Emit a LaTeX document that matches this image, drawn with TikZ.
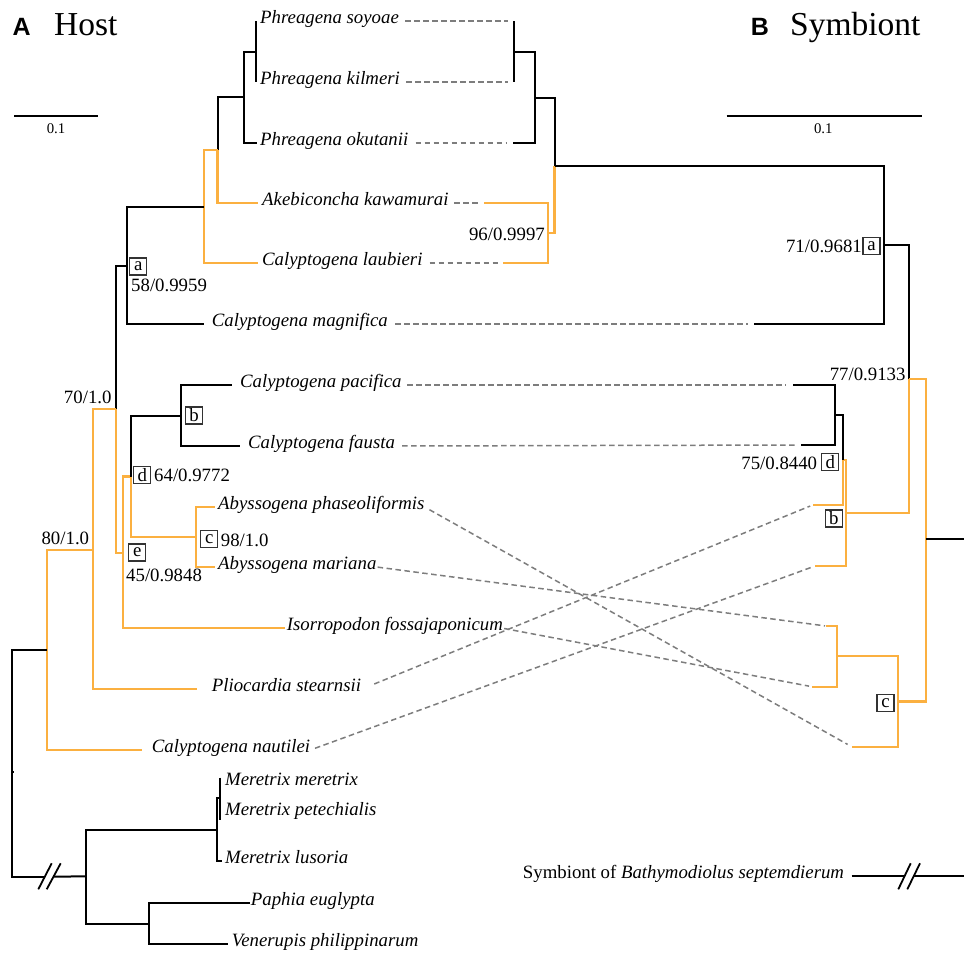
\documentclass[tikz,border=0pt]{standalone}
\usepackage{fontspec}
\setmainfont{Liberation Serif}
\newfontfamily\hsans{Liberation Sans}
\definecolor{orng}{RGB}{251,176,64}
\definecolor{dgrey}{RGB}{125,125,125}
\begin{document}
\begin{tikzpicture}[x=1pt,y=-1pt,
  blk/.style={line width=2pt, black},
  org/.style={line width=2.1pt, orng},
  cx/.style={line width=1.5pt, dgrey, dash pattern=on 5.5pt off 3.5pt},
  tx/.style={font=\fontsize{18.8}{20}\selectfont\itshape, inner sep=0pt, anchor=mid west},
  num/.style={font=\fontsize{18.8}{20}\selectfont, inner sep=0pt},
  bx/.style={draw=black!80, line width=1.1pt, minimum width=17pt, minimum height=17pt, inner sep=0pt, font=\fontsize{18.8}{20}\selectfont},
  ttl/.style={font=\fontsize{33.5}{36}\selectfont, inner sep=0pt, anchor=base west},
  ltr/.style={font=\hsans\bfseries\fontsize{25}{28}\selectfont, inner sep=0pt, anchor=base west},
  sc/.style={font=\fontsize{14.8}{16}\selectfont, inner sep=0pt, anchor=base},
  brk/.style={line width=1.8pt, black}
]
\useasboundingbox (0,0) rectangle (964,953);

% ---------- titles and scale bars
\node[ltr] (tA) at (12.5,35) {A};
\node[ttl] (tHost) at (54,35) {Host};
\node[ltr] (tB) at (750.7,35) {B};
\node[ttl] (tSym) at (790,35) {Symbiont};
\coordinate (sbl1) at (14,116); \coordinate (sbl2) at (98,116);
\draw[blk] (sbl1) -- (sbl2);
\node[sc] (sbl) at (56,133) {0.1};
\coordinate (sbr1) at (726.7,116); \coordinate (sbr2) at (921.7,116);
\draw[blk] (sbr1) -- (sbr2);
\node[sc] (sbr) at (823.3,133) {0.1};

% ---------- host tree coordinates
\coordinate (hsoy) at (256,21);  \coordinate (hkil) at (256,82);
\coordinate (hS1) at (256,51.5);
\coordinate (hoku) at (257,143);
\coordinate (hP) at (243.5,97);
\coordinate (hake) at (258,203);
\coordinate (hPA) at (217.5,150);
\coordinate (hlau) at (258,263);
\coordinate (hPAL) at (203.6,207);
\coordinate (hmag) at (204.3,324);
\coordinate (hA) at (126.7,266);
\coordinate (hpac) at (231.7,385);
\coordinate (hfau) at (240,446);
\coordinate (hB) at (181,415.5);
\coordinate (hpha) at (215,507);
\coordinate (hmar) at (215,567);
\coordinate (hC) at (196,537);
\coordinate (hD) at (130.7,476.5);
\coordinate (hiso) at (285,628.3);
\coordinate (hE) at (123.3,552.7);
\coordinate (h70) at (115.7,409);
\coordinate (hpli) at (196.7,689.3);
\coordinate (h80) at (93.3,550);
\coordinate (hnau) at (141.7,750);
\coordinate (hV) at (46.7,650);
\coordinate (hR) at (11.7,763);
\coordinate (hRt) at (14,771.7);
\coordinate (hRt0) at (11.7,771.7);
\coordinate (hbk1) at (45,876.7);
\coordinate (hbk2) at (54,876.7);
\coordinate (hOut) at (86,876.3);
\coordinate (hmer) at (220,777.7); \coordinate (hpet) at (220,820);
\coordinate (hMM) at (220,798.3);
\coordinate (hlus) at (222,861);
\coordinate (hMer) at (217.3,829.5);
\coordinate (hpap) at (250,903.3);
\coordinate (hven) at (228.3,944.3);
\coordinate (hPV) at (149.3,923.8);

% ---------- host branches
\draw[blk] (hsoy) -- (hkil);
\draw[blk] (hP) |- (hS1);
\draw[blk] (hP) |- (hoku);
\draw[blk] (hPA) |- (hP);
\draw[org] (hPA) |- (hake);
\draw[org] (hPAL) |- (hPA);
\draw[org] (hPAL) |- (hlau);
\draw[blk] (hA) |- (hPAL);
\draw[blk] (hA) |- (hmag);
\draw[blk] (h70) |- (hA);
\draw[org] (h70) |- (hE);
\draw[org] (hE) |- (hD);
\draw[org] (hE) |- (hiso);
\draw[blk] (hD) |- (hB);
\draw[org] (hD) |- (hC);
\draw[blk] (hB) |- (hpac);
\draw[blk] (hB) |- (hfau);
\draw[org] (hC) |- (hpha);
\draw[org] (hC) |- (hmar);
\draw[org] (h80) |- (h70);
\draw[org] (h80) |- (hpli);
\draw[org] (hV) |- (h80);
\draw[org] (hV) |- (hnau);
\draw[blk] (hR) |- (hV);
\draw[blk] (hR) |- (hbk1);
\draw[blk] (hbk2) -- (hOut);
\draw[blk] (hRt0) -- (hRt);
\draw[brk] (38.3,889.3) -- (51.7,863.3);
\draw[brk] (46.7,889.3) -- (60.7,863.3);
\draw[blk] (hOut) |- (hMer);
\draw[blk] (hOut) |- (hPV);
\draw[blk] (hMer) |- (hMM);
\draw[blk] (hMer) |- (hlus);
\draw[blk] (hmer) -- (hpet);
\draw[blk] (hPV) |- (hpap);
\draw[blk] (hPV) |- (hven);

% ---------- host labels
\node[tx] (Lsoy) at (260,21) {Phreagena soyoae};
\node[tx] (Lkil) at (260,82) {Phreagena kilmeri};
\node[tx] (Loku) at (260,143) {Phreagena okutanii};
\node[tx] (Lake) at (262,203) {Akebiconcha kawamurai};
\node[tx] (Llau) at (262,263) {Calyptogena laubieri};
\node[tx] (Lmag) at (211.7,324) {Calyptogena magnifica};
\node[tx] (Lpac) at (240,385) {Calyptogena pacifica};
\node[tx] (Lfau) at (248,446) {Calyptogena fausta};
\node[tx] (Lpha) at (218,507) {Abyssogena phaseoliformis};
\node[tx] (Lmar) at (218,567) {Abyssogena mariana};
\node[tx] (Liso) at (286.7,628.3) {Isorropodon fossajaponicum};
\node[tx] (Lpli) at (211.7,689.3) {Pliocardia stearnsii};
\node[tx] (Lnau) at (151.7,750) {Calyptogena nautilei};
\node[tx] (Lmer) at (225,782.7) {Meretrix meretrix};
\node[tx] (Lpet) at (225,813.3) {Meretrix petechialis};
\node[tx] (Llus) at (225,861) {Meretrix lusoria};
\node[tx] (Lpap) at (250.7,903.3) {Paphia euglypta};
\node[tx] (Lven) at (231.7,944.3) {Venerupis philippinarum};

% host node labels
\node[bx] (hba) at (138.3,266.5) {a};
\node[num, anchor=base west] (h58) at (131,291.7) {58/0.9959};
\node[num, anchor=base east] (h70l) at (111.7,403) {70/1.0};
\node[bx] (hbb) at (194,415.5) {b};
\node[bx] (hbd) at (142.2,475.3) {d};
\node[num, anchor=base west] (h64) at (154,481.7) {64/0.9772};
\node[bx] (hbc) at (209.3,538.7) {c};
\node[num, anchor=base west] (h98) at (220.7,546.7) {98/1.0};
\node[bx] (hbe) at (137.2,552.5) {e};
\node[num, anchor=base west] (h45) at (126,581.7) {45/0.9848};
\node[num, anchor=base east] (h80l) at (89.3,544) {80/1.0};

% ---------- symbiont tree coordinates
\coordinate (ssoy) at (513.5,21); \coordinate (skil) at (513.5,82);
\coordinate (sS1) at (513.5,52);
\coordinate (soku) at (512.5,143);
\coordinate (sP) at (534.5,98);
\coordinate (sake) at (484,203);
\coordinate (slau) at (502.7,263);
\coordinate (sAL) at (548,233);
\coordinate (sPA) at (554.5,165.7);
\coordinate (smag) at (754,324);
\coordinate (sA) at (884.3,245);
\coordinate (spac) at (792.7,385);
\coordinate (sfau) at (800.7,445);
\coordinate (sBc) at (834.5,415);
\coordinate (spli) at (812.7,505);
\coordinate (sD) at (843,460);
\coordinate (snau) at (815,566);
\coordinate (sB) at (846,513);
\coordinate (s77) at (909,379);
\coordinate (smar) at (826,626);
\coordinate (siso) at (812,686.7);
\coordinate (sMI) at (837.3,656);
\coordinate (spha) at (851.7,746.7);
\coordinate (sC) at (898,701.5);
\coordinate (sRin) at (925.7,539);
\coordinate (sRout) at (964,539);
\coordinate (sOutTip) at (851.7,876);
\coordinate (sbk1) at (904.5,876);
\coordinate (sbk2) at (913.7,876);
\coordinate (sOutR) at (964,876);

% ---------- symbiont branches
\draw[blk] (ssoy) -- (skil);
\draw[blk] (sP) |- (sS1);
\draw[blk] (sP) |- (soku);
\draw[blk] (sPA) |- (sP);
\draw[org] (sPA) |- (sAL);
\draw[org] (sAL) |- (sake);
\draw[org] (sAL) |- (slau);
\draw[blk] (sA) |- (sPA);
\draw[blk] (sA) |- (smag);
\draw[blk] (s77) |- (sA);
\draw[org] (s77) |- (sB);
\draw[org] (sB) |- (sD);
\draw[org] (sB) |- (snau);
\draw[blk] (sD) |- (sBc);
\draw[org] (sD) |- (spli);
\draw[blk] (sBc) |- (spac);
\draw[blk] (sBc) |- (sfau);
\draw[org] (sRin) |- (s77);
\draw[org] (sRin) |- (sC);
\draw[blk] (sRin) -- (sRout);
\draw[org] (sC) |- (sMI);
\draw[org] (sC) |- (spha);
\draw[org] (sMI) |- (smar);
\draw[org] (sMI) |- (siso);
\draw[blk] (sOutTip) -- (sbk1);
\draw[blk] (sbk2) -- (sOutR);
\draw[brk] (898.3,889.3) -- (910.7,863.3);
\draw[brk] (907.3,889.3) -- (920,863.3);

% symbiont labels
\node[num, anchor=base east] (s96) at (545,240) {96/0.9997};
\node[num, anchor=base east] (s71) at (862,252.5) {71/0.9681};
\node[bx] (sba) at (871.5,246) {a};
\node[num, anchor=base east] (s77l) at (905.7,380.7) {77/0.9133};
\node[num, anchor=base east] (s75) at (817.3,469.3) {75/0.8440};
\node[bx] (sbd) at (830.3,462.3) {d};
\node[bx] (sbb) at (833.7,518.5) {b};
\node[bx] (sbc) at (885.5,702.8) {c};
\node[anchor=mid west, inner sep=0pt, font=\fontsize{18.8}{20}\selectfont] (Lout) at (522.7,876) {Symbiont of \textit{Bathymodiolus septemdierum}};

% ---------- host-symbiont connectors
\draw[cx, shorten <=6pt, shorten >=6pt] (Lsoy.mid east) -- (ssoy);
\draw[cx, shorten <=6pt, shorten >=6pt] (Lkil.mid east) -- (skil);
\draw[cx, shorten <=7pt, shorten >=5.5pt] (Loku.mid east) -- (soku);
\draw[cx, shorten <=5.5pt, shorten >=4pt] (Lake.mid east) -- (sake);
\draw[cx, shorten <=7pt, shorten >=4.7pt] (Llau.mid east) -- (slau);
\draw[cx, shorten <=7pt, shorten >=6pt] (Lmag.mid east) -- (smag);
\draw[cx, shorten <=5.5pt, shorten >=7pt] (Lpac.mid east) -- (spac);
\draw[cx, shorten <=7pt, shorten >=5.7pt] (Lfau.mid east) -- (sfau);
\draw[cx, shorten <=5.5pt, shorten >=4.7pt] (Lpha.mid east) -- (spha);
\draw[cx, shorten <=1pt, shorten >=1pt] (Lmar.mid east) -- (smar);
\draw[cx, shorten <=1pt, shorten >=3pt] (Liso.mid east) -- (siso);
\draw[cx, shorten <=14pt, shorten >=2.7pt] (Lpli.mid east) -- (spli);
\draw[cx, shorten <=5pt, shorten >=4.3pt] (Lnau.mid east) -- (snau);
\end{tikzpicture}
\end{document}
